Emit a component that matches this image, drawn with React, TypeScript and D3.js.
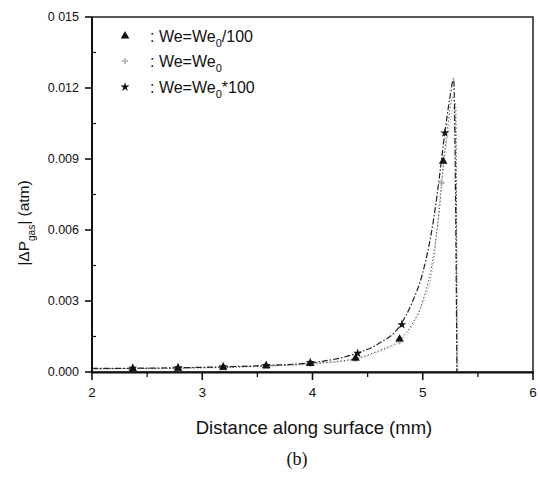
import React from "react";
import * as d3 from "d3";

// ---- data ----
const xTicks = [2, 3, 4, 5, 6];
const yTicks = [0, 0.003, 0.006, 0.009, 0.012, 0.015];
const yTickLabels = ["0.000", "0.003", "0.006", "0.009", "0.012", "0 015"];

// We = We0*100 (stars, dash-dot)
const starLineX = [2.0, 2.4, 2.8, 3.2, 3.6, 4.0, 4.4, 4.6, 4.8, 4.9, 5.0, 5.1, 5.15, 5.2, 5.25, 5.28, 5.31];
const starLineY = [0.00015, 0.00016, 0.00018, 0.00022, 0.00028, 0.0004, 0.00079, 0.0012, 0.002, 0.0029, 0.0042, 0.0065, 0.0082, 0.0101, 0.0117, 0.0124, 0];
const starMarkX = [2.37, 2.78, 3.19, 3.58, 3.98, 4.41, 4.81, 5.2];
const starMarkY = [0.00016, 0.00018, 0.00022, 0.00028, 0.0004, 0.00079, 0.002, 0.0101];

// We = We0/100 (triangles, dotted)
const triLineX = [2.0, 2.4, 2.8, 3.2, 3.6, 4.0, 4.4, 4.6, 4.8, 4.9, 5.0, 5.1, 5.15, 5.19, 5.23, 5.27, 5.3, 5.31];
const triLineY = [0.00013, 0.00015, 0.00017, 0.0002, 0.00026, 0.00036, 0.00058, 0.0009, 0.0014, 0.002, 0.003, 0.005, 0.0068, 0.0089, 0.0105, 0.0116, 0.0112, 0];
const triMarkX = [2.37, 2.78, 3.19, 3.58, 3.98, 4.39, 4.79, 5.185];
const triMarkY = [0.00014, 0.00016, 0.0002, 0.00026, 0.00036, 0.00058, 0.00139, 0.0089];

// We = We0 (crosses, light dotted)
const crossLineX = [2.0, 2.4, 2.8, 3.2, 3.6, 4.0, 4.4, 4.6, 4.8, 4.9, 5.0, 5.1, 5.17, 5.22, 5.26, 5.29, 5.32];
const crossLineY = [0.00012, 0.00014, 0.00016, 0.00019, 0.00025, 0.00034, 0.00054, 0.00085, 0.0013, 0.0019, 0.0029, 0.0047, 0.008, 0.0098, 0.0108, 0.0112, 0];
const crossMarkX = [2.37, 2.78, 3.19, 3.58, 3.98, 4.39, 4.79, 5.17];
const crossMarkY = [0.00013, 0.00015, 0.00019, 0.00025, 0.00034, 0.00055, 0.0013, 0.008];

const legendLabels = ["/100", "", "*100"];

const FONT = "'Liberation Sans', Arial, sans-serif";

export default function App() {
  const W = 540, H = 478;
  const x = d3.scaleLinear().domain([2, 6]).range([92, 533]);
  const y = d3.scaleLinear().domain([0, 0.015]).range([372, 17]);

  const line = d3
    .line<[number, number]>()
    .x((d) => x(d[0]))
    .y((d) => y(d[1]))
    .curve(d3.curveMonotoneX);

  const zip = (a: number[], b: number[]) => a.map((v, i) => [v, b[i]] as [number, number]);

  const triSym = d3.symbol().type(d3.symbolTriangle).size(32)()!;
  const starSym = d3.symbol().type(d3.symbolStar).size(26)()!;
  const crossSym = d3.symbol().type(d3.symbolCross).size(20)()!;

  const xMinor = d3.range(2.5, 6, 1);
  const yMinor = d3.range(0.0015, 0.015, 0.003);

  const legendRows = [
    { sym: triSym, fill: "#111", y: 36 },
    { sym: crossSym, fill: "#bbb", y: 61 },
    { sym: starSym, fill: "#111", y: 87 },
  ];

  return (
    <svg width={W} height={H} style={{ position: "absolute", left: 0, top: 0, background: "#fff" }}>
      <rect width={W} height={H} fill="#fff" />
      {/* series lines */}
      <path d={line(zip(crossLineX, crossLineY))!} fill="none" stroke="#9a9a9a" strokeWidth={1} strokeDasharray="1,2" />
      <path d={line(zip(triLineX, triLineY))!} fill="none" stroke="#555" strokeWidth={1} strokeDasharray="1.5,2" />
      <path d={line(zip(starLineX, starLineY))!} fill="none" stroke="#222" strokeWidth={1.2} strokeDasharray="6,2,1.5,2" />

      {/* markers */}
      {crossMarkX.map((v, i) => (
        <path key={"c" + i} d={crossSym} transform={`translate(${x(v)},${y(crossMarkY[i])})`} fill="#aaa" />
      ))}
      {triMarkX.map((v, i) => (
        <path key={"t" + i} d={triSym} transform={`translate(${x(v)},${y(triMarkY[i])})`} fill="#111" />
      ))}
      {starMarkX.map((v, i) => (
        <path key={"s" + i} d={starSym} transform={`translate(${x(v)},${y(starMarkY[i])})`} fill="#111" />
      ))}

      {/* frame */}
      <rect x={92} y={17} width={441} height={355} fill="none" stroke="#111" strokeWidth={1.4} />
      <line x1={92} x2={92} y1={17} y2={373} stroke="#111" strokeWidth={2} />
      <line x1={91} x2={534} y1={372.5} y2={372.5} stroke="#111" strokeWidth={2} />

      {/* x ticks */}
      {xTicks.map((t) => (
        <g key={"xt" + t}>
          <line x1={x(t)} x2={x(t)} y1={372} y2={380} stroke="#111" strokeWidth={1.6} />
          <text x={x(t)} y={397} textAnchor="middle" fontFamily={FONT} fontSize={13.5} fill="#111">
            {t}
          </text>
        </g>
      ))}
      {xMinor.map((t) => (
        <line key={"xm" + t} x1={x(t)} x2={x(t)} y1={372} y2={377} stroke="#111" strokeWidth={1.3} />
      ))}

      {/* y ticks */}
      {yTicks.map((t, i) => (
        <g key={"yt" + t}>
          <line x1={85} x2={92} y1={y(t)} y2={y(t)} stroke="#111" strokeWidth={1.6} />
          <text x={79} y={y(t) + 4} textAnchor="end" fontFamily={FONT} fontSize={12.5} fill="#111">
            {yTickLabels[i]}
          </text>
        </g>
      ))}
      {yMinor.map((t) => (
        <line key={"ym" + t} x1={92} x2={96} y1={y(t)} y2={y(t)} stroke="#111" strokeWidth={1.2} />
      ))}

      {/* legend */}
      {legendRows.map((r, i) => (
        <g key={"lg" + i}>
          <path d={r.sym} transform={`translate(125,${r.y})`} fill={r.fill} />
          <text x={150} y={r.y + 6} fontFamily={FONT} fontSize={16} fill="#111">
            <tspan>: We=We</tspan>
            <tspan fontSize={11} dy={5}>0</tspan>
            <tspan dy={-5}>{legendLabels[i]}</tspan>
          </text>
        </g>
      ))}

      {/* axis labels */}
      <text x={314} y={434} textAnchor="middle" fontFamily={FONT} fontSize={18.5} fill="#111">
        Distance along surface (mm)
      </text>
      <text transform="translate(29,223) rotate(-90)" textAnchor="middle" fontFamily={FONT} fontSize={15.5} fill="#111">
        <tspan>|ΔP</tspan>
        <tspan fontSize={10} dy={6}>gas</tspan>
        <tspan dy={-6}>|  (atm)</tspan>
      </text>
      <text x={297} y={465} textAnchor="middle" fontFamily="'Liberation Serif', 'Times New Roman', serif" fontSize={18} fill="#111">
        (b)
      </text>
    </svg>
  );
}
